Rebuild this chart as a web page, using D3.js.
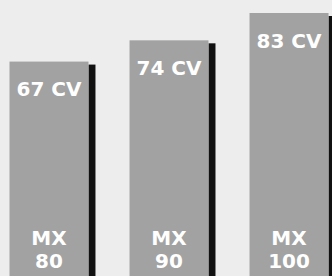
<!DOCTYPE html>
<html>
<head>
<meta charset="utf-8">
<script src="https://cdn.jsdelivr.net/npm/d3@7"></script>
<style>
  html, body { margin: 0; padding: 0; background: #ededed; }
  svg { display: block; }
</style>
</head>
<body>
<div id="chart"></div>
<script>
// data
var models = ["MX 80", "MX 90", "MX 100"];
var power = [67, 74, 83];
var valueLabels = ["67 CV", "74 CV", "83 CV"];

var width = 332, height = 276;

var svg = d3.select("#chart")
  .append("svg")
  .attr("width", width)
  .attr("height", height);

svg.append("rect")
  .attr("width", width)
  .attr("height", height)
  .attr("fill", "#ededed");

var x = d3.scaleBand()
  .domain(models)
  .range([9.5, 328.5])
  .paddingInner(0.342)
  .paddingOuter(0);

var y = d3.scaleLinear()
  .domain([0, 83])
  .range([265, 13]);

var data = models.map(function (m, i) {
  return { model: m, value: power[i], label: valueLabels[i] };
});

var bars = svg.append("g")
  .selectAll("g")
  .data(data)
  .enter()
  .append("g");

// black drop shadow on the right
bars.append("rect")
  .attr("x", function (d) { return x(d.model) + x.bandwidth(); })
  .attr("y", function (d) { return y(d.value) + 3; })
  .attr("width", 7)
  .attr("height", function (d) { return height - y(d.value) - 3; })
  .attr("fill", "#111");

bars.append("rect")
  .attr("x", function (d) { return x(d.model); })
  .attr("y", function (d) { return y(d.value); })
  .attr("width", x.bandwidth())
  .attr("height", function (d) { return height - y(d.value); })
  .attr("fill", "#a2a2a2");

var font = "'DejaVu Sans', sans-serif";

bars.append("text")
  .attr("x", function (d) { return x(d.model) + x.bandwidth() / 2; })
  .attr("y", function (d) { return y(d.value) + 34.5; })
  .attr("text-anchor", "middle")
  .attr("font-family", font)
  .attr("font-weight", "bold")
  .attr("font-size", 20)
  .attr("fill", "#fff")
  .text(function (d) { return d.label; });

bars.each(function (d) {
  var parts = d.model.split(" ");
  var t = d3.select(this).append("text")
    .attr("text-anchor", "middle")
    .attr("font-family", font)
    .attr("font-weight", "bold")
    .attr("font-size", 20)
    .attr("fill", "#fff");
  t.append("tspan")
    .attr("x", x(d.model) + x.bandwidth() / 2)
    .attr("y", 245)
    .text(parts[0]);
  t.append("tspan")
    .attr("x", x(d.model) + x.bandwidth() / 2)
    .attr("y", 268)
    .text(parts[1]);
});
</script>
</body>
</html>
